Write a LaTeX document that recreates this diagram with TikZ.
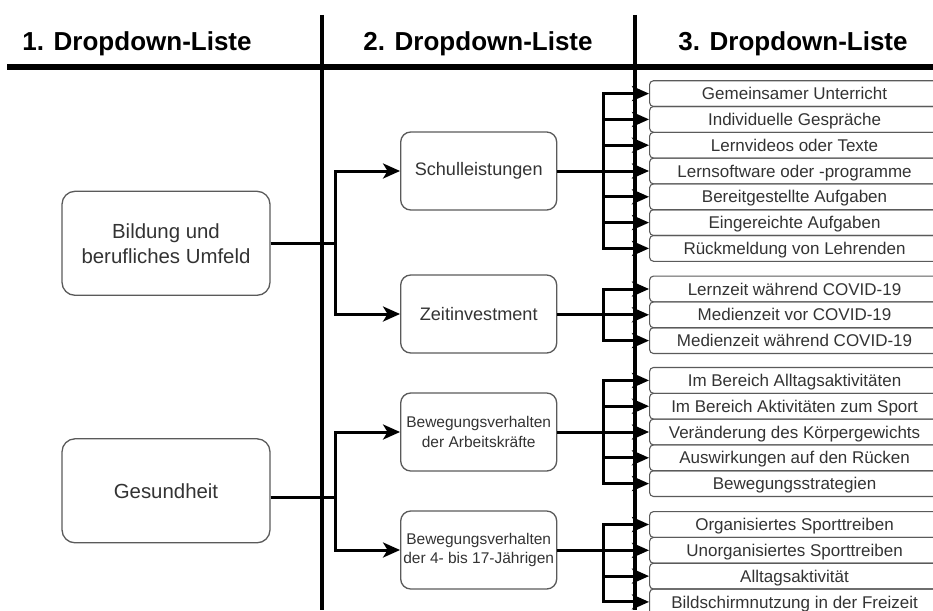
\documentclass[tikz,border=0pt]{standalone}
\usepackage{fontspec}
\setmainfont{Liberation Sans}
\usetikzlibrary{arrows.meta}
\definecolor{txtgray}{HTML}{333333}
\definecolor{boxgray}{HTML}{5A5A5A}
\begin{document}
\begin{tikzpicture}[x=1pt,y=-1pt,
    head/.style={font=\bfseries\fontsize{26}{30}\selectfont,text height=18.6pt,text depth=0pt,inner sep=0pt},
    mainbox/.style={draw=boxgray,line width=1.3pt,rounded corners=13pt,minimum width=208pt,minimum height=104pt,align=center,text=txtgray,font=\fontsize{20.4}{25}\selectfont},
    midbox/.style={draw=boxgray,line width=1.3pt,rounded corners=10pt,minimum width=156pt,minimum height=78pt,inner sep=2pt,align=center,text=txtgray,font=\fontsize{18.1}{22}\selectfont},
    smallmid/.style={midbox,font=\fontsize{15.5}{19.5}\selectfont},
    item/.style={draw=boxgray,line width=1.1pt,rounded corners=4pt,minimum width=290pt,minimum height=25.8pt,inner sep=0pt,anchor=west,text=txtgray,font=\fontsize{17}{20}\selectfont,text height=12.2pt,text depth=0pt},
    conn/.style={line width=3pt,-{Stealth[length=17pt,width=15pt,inset=4.5pt]}},
    ]
    \newcommand{\rowh}{25.8}
    \useasboundingbox (0,0) rectangle (933,610);

    % column heads and separators
    \node[head] (head1) at (137,41) {1. Dropdown-Liste};
    \node[head] (head2) at (478,41) {2. Dropdown-Liste};
    \node[head] (head3) at (793,41) {3. Dropdown-Liste};
    \draw[line width=5.5pt] (7,67) -- (933,67);
    \draw[line width=4.5pt] (322,15) -- (322,610);
    \draw[line width=4.5pt] (635,15) -- (635,610);

    % first list
    \node[mainbox] (bildung) at (166,243.3) {Bildung und\\berufliches Umfeld};
    \node[mainbox] (gesund) at (166,490.8) {Gesundheit};

    % second list
    \node[midbox] (schul) at (478.7,171) {Schulleistungen};
    \node[midbox] (zeit) at (478.7,314) {Zeitinvestment};
    \node[smallmid] (arbeit) at (478.7,432) {Bewegungsverhalten\\der Arbeitskräfte};
    \node[smallmid] (jugend) at (478.7,550) {Bewegungsverhalten\\der 4- bis 17-Jährigen};

    \draw[conn] (bildung.east) -- ++(65,0) |- (schul.west);
    \draw[conn] (bildung.east) -- ++(65,0) |- (zeit.west);
    \draw[conn] ([yshift=-7pt]gesund.east) -- ++(65,0) |- (arbeit.west);
    \draw[conn] ([yshift=-7pt]gesund.east) -- ++(65,0) |- (jugend.west);

    % third list
    \foreach \txt [count=\i] in {Gemeinsamer Unterricht,Individuelle Gespräche,Lernvideos oder Texte,Lernsoftware oder -programme,Bereitgestellte Aufgaben,Eingereichte Aufgaben,Rückmeldung von Lehrenden}{
        \node[item] (schul-\i) at (649,{171+(\i-4)*\rowh}) {\txt};
        \draw[conn] (schul.east) -- ++(46,0) |- (schul-\i.west);
    }
    \foreach \txt [count=\i] in {Lernzeit während COVID-19,Medienzeit vor COVID-19,Medienzeit während COVID-19}{
        \node[item] (zeit-\i) at (649,{314.8+(\i-2)*\rowh}) {\txt};
        \draw[conn] (zeit.east) -- ++(46,0) |- (zeit-\i.west);
    }
    \foreach \txt [count=\i] in {Im Bereich Alltagsaktivitäten,Im Bereich Aktivitäten zum Sport,Veränderung des Körpergewichts,Auswirkungen auf den Rücken,Bewegungsstrategien}{
        \node[item] (arbeit-\i) at (649,{432+(\i-3)*\rowh}) {\txt};
        \draw[conn] (arbeit.east) -- ++(46,0) |- (arbeit-\i.west);
    }
    \foreach \txt [count=\i] in {Organisiertes Sporttreiben,Unorganisiertes Sporttreiben,Alltagsaktivität,Bildschirmnutzung in der Freizeit}{
        \node[item] (jugend-\i) at (649,{524.5+(\i-1)*\rowh}) {\txt};
        \draw[conn] (jugend.east) -- ++(46,0) |- (jugend-\i.west);
    }
\end{tikzpicture}
\end{document}
